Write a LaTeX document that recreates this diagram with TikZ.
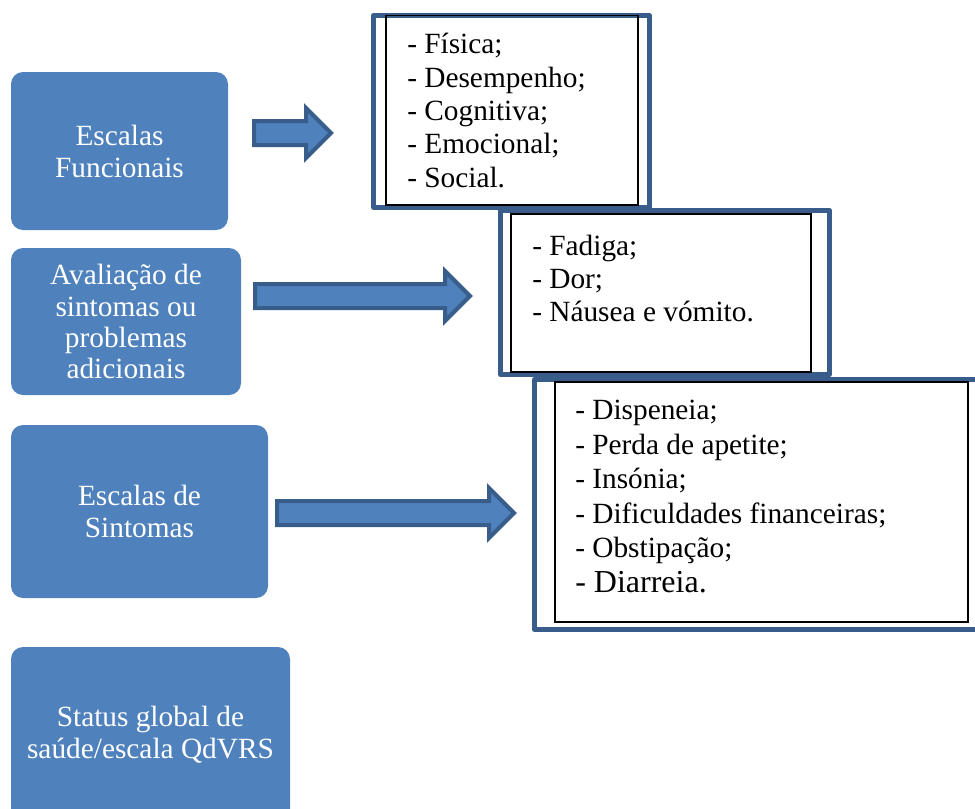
\documentclass[tikz,border=0pt]{standalone}
\usepackage{fontspec}
\setmainfont{Liberation Serif}
\usetikzlibrary{shapes.arrows}
\definecolor{boxblue}{HTML}{4F81BD}
\definecolor{edgeblue}{HTML}{385D8A}

\begin{document}
\begin{tikzpicture}[x=0.75pt, y=-0.75pt,
  every node/.style={font=\fontsize{22}{24}\selectfont},
  bluebox/.style={rectangle, rounded corners=9pt, fill=boxblue, text=white, align=center, inner sep=0pt},
  listtext/.style={anchor=north west, align=left, inner sep=0pt, font=\fontsize{22}{25}\selectfont},
  frame/.style={draw=edgeblue, fill=white, line width=3.75pt, line join=round},
  inbox/.style={draw=black, line width=1.1pt},
  blockarrow/.style={single arrow, draw=edgeblue, fill=boxblue, line width=3pt, inner xsep=0pt, inner ysep=7.5pt, single arrow head extend=9.75pt, anchor=tail, minimum height=#1}]
  \useasboundingbox (0,0) rectangle (975,808);

  \node[bluebox, minimum width=162.75pt, minimum height=118.5pt] (funcionais) at (119.5,151) {Escalas\\Funcionais};
  \node[bluebox, minimum width=172.5pt, minimum height=110.25pt, font=\fontsize{22}{23.3}\selectfont] (adicionais) at (126,321.5) {Avaliação de\\sintomas ou\\problemas\\adicionais};
  \node[bluebox, minimum width=192.75pt, minimum height=129.75pt] (sintomas) at (139.5,511.5) {Escalas de\\Sintomas};
  \node[bluebox, minimum width=209.25pt, minimum height=132pt] (status) at (150.5,735) {Status global de\\saúde/escala QdVRS};

  \draw[frame] (373.5,15.5) rectangle (649.5,207.5);
  \draw[inbox] (386,15.5) rectangle (638,205);
  \draw[frame] (500.5,210.5) rectangle (829.5,374.5);
  \draw[inbox] (511,214) rectangle (811,372);
  \draw[frame] (534.5,379.5) rectangle (990,629.5);
  \draw[inbox] (555,382) rectangle (968,622);

  \node[listtext] (listfunc) at (407,33) {- Física;\\- Desempenho;\\- Cognitiva;\\- Emocional;\\- Social.};
  \node[listtext] (listadic) at (532,234.5) {- Fadiga;\\- Dor;\\- Náusea e vómito.};
  \node[listtext, font=\fontsize{22}{25.9}\selectfont] (listsint) at (575,400) {- Dispeneia;\\- Perda de apetite;\\- Insónia;\\- Dificuldades financeiras;\\- Obstipação;\\{\fontsize{24}{25.9}\selectfont - Diarreia.}};

  \node[blockarrow=57.75pt] (arrfunc) at (252,133) {};
  \node[blockarrow=161.25pt] (arradic) at (253,296) {};
  \node[blockarrow=177.75pt] (arrsint) at (275,513) {};
\end{tikzpicture}
\end{document}
